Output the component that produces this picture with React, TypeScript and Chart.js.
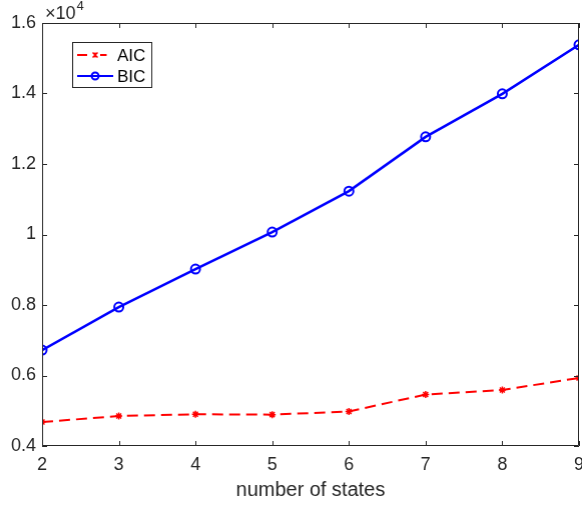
import React, { useEffect, useRef } from "react";
import { Chart, registerables } from "chart.js";

Chart.register(...registerables);

const states = [2, 3, 4, 5, 6, 7, 8, 9];
const aicValues = [4680, 4850, 4900, 4890, 4980, 5460, 5590, 5930];
const bicValues = [6720, 7940, 9020, 10070, 11230, 12770, 13990, 15380];
const yTicks = [4000, 6000, 8000, 10000, 12000, 14000, 16000];
const seriesNames = ["AIC", "BIC"];
const xTitle = "number of states";

const FONT = "'Liberation Sans', Arial, Helvetica, sans-serif";
const AXIS = "#262626";
const W = 582;
const H = 506;
const TARGET_RIGHT = 578;

const boxPlugin = {
  id: "matlabBox",
  afterDraw(chart: any) {
    const { ctx, chartArea: a, scales } = chart;
    const xs = scales.x;
    const ys = scales.y;
    ctx.save();
    ctx.strokeStyle = AXIS;
    ctx.lineWidth = 1;
    ctx.beginPath();
    ctx.moveTo(a.left + 0.5, a.top + 0.5);
    ctx.lineTo(a.right - 0.5, a.top + 0.5);
    ctx.lineTo(a.right - 0.5, a.bottom - 0.5);
    ctx.lineTo(a.left + 0.5, a.bottom - 0.5);
    ctx.closePath();
    ctx.stroke();
    const tl = 5;
    ctx.beginPath();
    states.forEach((v) => {
      const px = Math.round(xs.getPixelForValue(v)) + 0.5;
      ctx.moveTo(px, a.bottom);
      ctx.lineTo(px, a.bottom - tl);
      ctx.moveTo(px, a.top);
      ctx.lineTo(px, a.top + tl);
    });
    yTicks.forEach((v) => {
      const py = Math.round(ys.getPixelForValue(v)) + 0.5;
      ctx.moveTo(a.left, py);
      ctx.lineTo(a.left + tl, py);
      ctx.moveTo(a.right, py);
      ctx.lineTo(a.right - tl, py);
    });
    ctx.stroke();

    // exponent label
    ctx.fillStyle = AXIS;
    ctx.textBaseline = "alphabetic";
    ctx.textAlign = "left";
    ctx.font = `18px ${FONT}`;
    ctx.fillText("\u00d710", a.left + 3, a.top - 4);
    const w = ctx.measureText("\u00d710").width;
    ctx.font = `13px ${FONT}`;
    ctx.fillText("4", a.left + 3 + w + 1, a.top - 13);

    // legend
    const lx = 72.5, ly = 42.5, lw = 79, lh = 45;
    ctx.fillStyle = "#ffffff";
    ctx.fillRect(lx, ly, lw, lh);
    ctx.strokeStyle = AXIS;
    ctx.lineWidth = 1;
    ctx.strokeRect(lx, ly, lw, lh);
    const rows = [ly + 12.5, ly + 33.5];
    chart.data.datasets.forEach((ds: any, i: number) => {
      const y = rows[i];
      ctx.save();
      ctx.strokeStyle = ds.borderColor;
      ctx.lineWidth = 2;
      ctx.beginPath();
      if (ds.borderDash) {
        ctx.moveTo(lx + 4.5, y);
        ctx.lineTo(lx + 14.5, y);
        ctx.moveTo(lx + 27.5, y);
        ctx.lineTo(lx + 34, y);
      } else {
        ctx.moveTo(lx + 4.5, y);
        ctx.lineTo(lx + 40.5, y);
      }
      ctx.stroke();
      ctx.restore();
      const cx = lx + 22.5;
      ctx.save();
      ctx.strokeStyle = ds.borderColor;
      ctx.lineWidth = 2;
      if (ds.pointStyle === "circle") {
        ctx.beginPath();
        ctx.arc(cx, y, 3.5, 0, Math.PI * 2);
        ctx.stroke();
      } else {
        const r = 2.5;
        ctx.lineWidth = 1.5;
        ctx.beginPath();
        ctx.moveTo(cx - r, y - r); ctx.lineTo(cx + r, y + r);
        ctx.moveTo(cx + r, y - r); ctx.lineTo(cx - r, y + r);
        ctx.moveTo(cx, y - r); ctx.lineTo(cx, y + r);
        ctx.stroke();
      }
      ctx.restore();
      ctx.fillStyle = "#000000";
      ctx.font = `17px ${FONT}`;
      ctx.textBaseline = "middle";
      ctx.fillText(ds.label, lx + 44.5, y + 1);
    });
    ctx.restore();
  },
};

export default function App() {
  const ref = useRef<HTMLCanvasElement | null>(null);
  useEffect(() => {
    document.body.style.margin = "0";
    const chart = new Chart(ref.current!, {
      type: "line",
      data: {
        datasets: [
          {
            label: seriesNames[0],
            data: states.map((s, i) => ({ x: s, y: aicValues[i] })),
            borderColor: "#ff0000",
            backgroundColor: "#ff0000",
            borderWidth: 2,
            borderDash: [11, 6],
            pointStyle: "star",
            pointRadius: 3.5,
            pointBorderWidth: 1.5,
            tension: 0,
          },
          {
            label: seriesNames[1],
            data: states.map((s, i) => ({ x: s, y: bicValues[i] })),
            borderColor: "#0000ff",
            backgroundColor: "rgba(0,0,0,0)",
            borderWidth: 2.5,
            pointStyle: "circle",
            pointRadius: 4.5,
            pointBorderWidth: 2,
            tension: 0,
          },
        ],
      },
      options: {
        animation: false,
        responsive: false,
        maintainAspectRatio: false,
        layout: { padding: { top: 23, right: 0, left: 0, bottom: 0 } },
        plugins: { legend: { display: false }, tooltip: { enabled: false } },
        scales: {
          x: {
            type: "linear",
            min: 2,
            max: 9,
            grid: { display: false, drawTicks: false },
            border: { display: false },
            ticks: {
              stepSize: 1,
              padding: 8,
              color: AXIS,
              font: { family: FONT, size: 18 },
            },
            title: {
              display: true,
              text: xTitle,
              color: AXIS,
              font: { family: FONT, size: 20 },
              padding: { top: 4, bottom: 4 },
            },
            afterFit(scale: any) {
              scale.height = 60;
              scale.paddingLeft = 0;
              scale.paddingRight = 0;
            },
          },
          y: {
            type: "linear",
            min: 4000,
            max: 16000,
            grid: { display: false, drawTicks: false },
            border: { display: false },
            afterBuildTicks(scale: any) {
              scale.ticks = yTicks.map((v) => ({ value: v }));
            },
            ticks: {
              padding: 6,
              color: AXIS,
              font: { family: FONT, size: 18 },
              callback: (v: any) => {
                const n = Number(v) / 10000;
                return n === 1 ? "1" : n.toFixed(1);
              },
            },
            afterFit(scale: any) {
              scale.width = 42;
              scale.paddingTop = 0;
              scale.paddingBottom = 0;
            },
          },
        },
      },
      plugins: [boxPlugin],
    } as any);
    const extra = chart.chartArea.right - TARGET_RIGHT;
    if (extra !== 0) {
      const ctxOpts: any = chart.options.layout;
      if (extra > 0) {
        ctxOpts.padding = { top: 23, right: extra, left: 0, bottom: 0 };
        chart.update();
      } else {
        chart.resize(W - extra, H);
      }
    }
    return () => chart.destroy();
  }, []);
  return (
    <div style={{ width: W, height: H, overflow: "hidden" }}>
      <canvas ref={ref} width={W} height={H} style={{ display: "block" }} />
    </div>
  );
}
